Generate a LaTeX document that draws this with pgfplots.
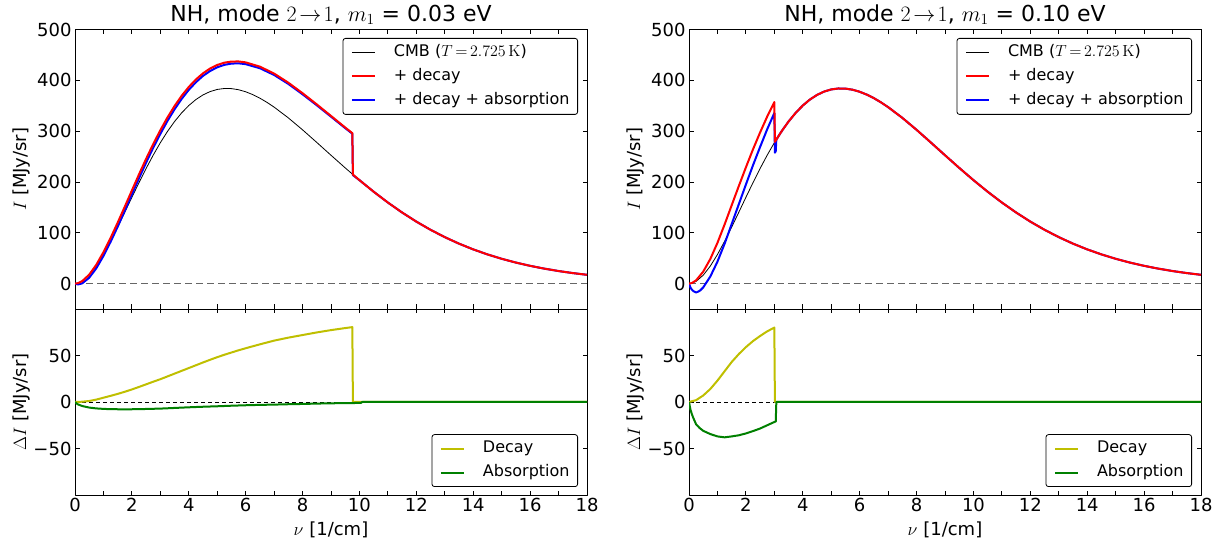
\documentclass[border=0pt]{standalone}
\usepackage{fix-cm}
\usepackage[no-math]{fontspec}
\setmainfont{DejaVu Sans}
\usepackage{pgfplots}
\pgfplotsset{compat=1.18}
\usepackage{pgfplotstable}
\definecolor{mplyellow}{rgb}{0.75,0.75,0}
\definecolor{mplgreen}{rgb}{0,0.5,0}

\pgfplotstableread{
nu I
0 0
0.1 0.73
0.25 4.40
0.5 16.46
0.75 34.53
1 57.18
1.25 83.10
1.5 111.13
1.75 140.29
2 169.72
2.25 198.67
2.5 226.52
2.75 252.81
3 277.17
3.25 299.28
3.5 318.90
3.75 335.97
4 350.38
4.25 362.13
4.5 371.25
4.75 377.83
5 382.04
5.25 383.92
5.5 383.67
5.75 381.49
6 377.47
6.25 371.86
6.5 364.85
6.75 356.58
7 347.25
7.5 326.08
8 302.56
8.5 277.75
9 252.55
9.5 227.64
10 203.58
10.5 180.76
11 159.47
11.5 139.86
12 121.94
12.5 105.82
13 91.39
13.5 78.58
14 67.29
14.5 57.41
15 48.80
15.5 41.35
16 34.92
16.5 29.42
17 24.70
17.5 20.69
18 17.29
}\cmb

\pgfplotsset{
  panel/.style={
    scale only axis, width=512bp, xmin=0, xmax=18,
    axis line style={line width=0.8bp},
    every tick/.style={black, line width=0.8bp},
    major tick length=4.5bp, minor tick length=4.5bp,
    tick align=inside,
    xtick={0,2,...,18}, minor xtick={1,3,...,17},
    ticklabel style={font=\fontsize{18bp}{21bp}\selectfont},
    label style={font=\fontsize{18bp}{21bp}\selectfont},
    ylabel style={at={(axis description cs:-0.105,0.5)}, anchor=center},
    xlabel style={at={(axis description cs:0.5,0)}, anchor=base, yshift=-40bp},
    title style={at={(axis description cs:0.5,1)}, anchor=base, inner sep=0pt, yshift=2bp, font=\fontsize{22bp}{25bp}\selectfont},
    legend cell align=left,
    legend image code/.code={\draw[##1] (0bp,0bp) -- (23bp,0bp);},
    line join=round,
  },
  toppanel/.style={panel, height=279.5bp, ymin=-50, ymax=500,
    ytick={0,100,200,300,400,500}, yticklabels={0,100,200,300,400,500},
    xticklabels={}, ylabel={$I$ [MJy/sr]},
    legend style={at={(1,1)}, anchor=north east, xshift=-9bp, yshift=-8.5bp,
      draw=black, line width=0.8bp, rounded corners=2.5bp, fill=white,
      inner xsep=8bp, inner ysep=6bp, row sep=8bp, column sep=18bp,
      font=\fontsize{16bp}{19bp}\selectfont,
      nodes={inner sep=0pt, text height=12bp, text depth=4bp}}},
  botpanel/.style={panel, height=186bp, ymin=-100, ymax=100,
    ytick={-50,0,50}, yticklabels={−50,0,50},
    xticklabels={0,2,4,6,8,10,12,14,16,18},
    ylabel={$\Delta I$ [MJy/sr]}, xlabel={$\nu$ [1/cm]},
    legend style={at={(1,0)}, anchor=south east, xshift=-9bp, yshift=8bp,
      draw=black, line width=0.8bp, rounded corners=2.5bp, fill=white,
      inner xsep=8bp, inner ysep=6bp, row sep=8bp, column sep=18bp,
      font=\fontsize{16bp}{19bp}\selectfont,
      nodes={inner sep=0pt, text height=12bp, text depth=4bp}}},
}

\begin{document}
\begin{tikzpicture}
\path[use as bounding box] (0,0) rectangle (1227bp,542bp);

% ---------- left top ----------
\begin{axis}[toppanel, at={(75bp,233bp)}, anchor=south west,
  title={NH, mode $2\mskip2mu{\to}\mskip2mu1$, $m_1$ = 0.03 eV}]
\addlegendimage{black, line width=0.8bp}\addlegendentry{CMB ($T\mskip3mu{=}\mskip3mu2.725\,\mathrm{K}$)}
\addlegendimage{red, line width=2bp}\addlegendentry{+ decay}
\addlegendimage{blue, line width=2bp}\addlegendentry{+ decay + absorption}
\addplot[forget plot, black!60, line width=1.3bp, dash pattern=on 6.5bp off 4.5bp] coordinates {(0,0) (18,0)};
\addplot[forget plot, black, line width=0.8bp] table[x=nu,y=I] {\cmb};
\addplot[forget plot, blue, line width=2bp] coordinates {(0,0) (0.1,-1.7) (0.25,0.4) (0.5,11.6) (0.75,30.2) (1,54.4) (1.25,82.0) (1.5,112.0) (1.75,143.4) (2,175.4) (2.25,207.2) (2.5,238.0) (2.75,267.3) (3,294.6) (3.25,320.0) (3.5,343.0) (3.75,363.4) (4,381.2) (4.25,396.2) (4.5,408.7) (4.75,418.3) (5,425.6) (5.25,430.4) (5.5,432.9) (5.75,433.4) (6,431.8) (6.5,423.8) (7,410.5) (7.5,392.9) (8,372.5) (8.5,350.9) (9,328.5) (9.5,305.9) (9.75,294.9) (9.77,213.4) (10,203.58)};
\addplot[forget plot, blue, line width=2bp, restrict x to domain=10:18] table[x=nu,y=I] {\cmb};
\addplot[forget plot, red, line width=2bp] coordinates {(0,0) (0.1,0.8) (0.25,4.7) (0.5,17.6) (0.75,37.1) (1,61.8) (1.25,89.7) (1.5,119.8) (1.75,151.3) (2,183.2) (2.25,214.9) (2.5,245.5) (2.75,274.6) (3,301.7) (3.25,326.8) (3.5,349.4) (3.75,369.5) (4,386.9) (4.25,401.6) (4.5,413.8) (4.75,423.2) (5,430.2) (5.25,434.7) (5.5,436.9) (5.75,437.1) (6,435.3) (6.5,426.9) (7,413.3) (7.5,395.3) (8,374.6) (8.5,352.6) (9,329.9) (9.5,307.1) (9.75,296.0) (9.77,214.5) (10,203.58)};
\addplot[forget plot, red, line width=2bp, restrict x to domain=10:18] table[x=nu,y=I] {\cmb};
\end{axis}

% ---------- left bottom ----------
\begin{axis}[botpanel, at={(75bp,47bp)}, anchor=south west]
\addplot[forget plot, black, line width=0.8bp, dash pattern=on 4bp off 3bp] coordinates {(0,0) (18,0)};
\addplot[mplyellow, line width=2bp] coordinates {(0,0) (0.25,0.3) (0.5,1.1) (0.75,2.6) (1,4.6) (1.25,6.6) (1.5,8.7) (1.75,11) (2,13.5) (2.25,16.2) (2.5,19) (2.75,21.8) (3,24.5) (3.25,27.5) (3.5,30.5) (3.75,33.5) (4,36.5) (4.25,39.5) (4.5,42.5) (4.75,45.4) (5,48.2) (5.25,50.8) (5.5,53.2) (5.75,55.6) (6,57.8) (6.5,62) (7,66) (7.5,69.2) (8,72) (8.5,74.8) (9,77.3) (9.5,79.5) (9.75,80.5) (9.77,0) (18,0)};
\addlegendentry{Decay}
\addplot[mplgreen, line width=2bp] coordinates {(0,0) (0.05,-1.5) (0.1,-2.5) (0.25,-4.3) (0.5,-6) (0.75,-6.9) (1,-7.4) (1.25,-7.7) (1.5,-7.8) (1.75,-7.9) (2,-7.8) (2.25,-7.7) (2.5,-7.5) (2.75,-7.3) (3,-7.1) (3.5,-6.4) (4,-5.7) (4.5,-5.1) (5,-4.6) (5.5,-4) (6,-3.5) (6.5,-3.1) (7,-2.8) (7.5,-2.4) (8,-2.1) (8.5,-1.7) (9,-1.4) (9.5,-1.2) (10.05,-1) (10.1,0) (18,0)};
\addlegendentry{Absorption}
\end{axis}

% ---------- right top ----------
\begin{axis}[toppanel, at={(689bp,233bp)}, anchor=south west,
  title={NH, mode $2\mskip2mu{\to}\mskip2mu1$, $m_1$ = 0.10 eV}]
\addlegendimage{black, line width=0.8bp}\addlegendentry{CMB ($T\mskip3mu{=}\mskip3mu2.725\,\mathrm{K}$)}
\addlegendimage{red, line width=2bp}\addlegendentry{+ decay}
\addlegendimage{blue, line width=2bp}\addlegendentry{+ decay + absorption}
\addplot[forget plot, black!60, line width=1.3bp, dash pattern=on 6.5bp off 4.5bp] coordinates {(0,0) (18,0)};
\addplot[forget plot, black, line width=0.8bp] table[x=nu,y=I] {\cmb};
\addplot[forget plot, blue, line width=2bp] coordinates {(0,0) (0.05,-7.7) (0.1,-12.0) (0.15,-14.7) (0.25,-17.6) (0.375,-14.4) (0.5,-7.5) (0.75,14.0) (1,43.2) (1.25,78.1) (1.5,117.1) (1.75,156.0) (2,194.9) (2.25,232.9) (2.5,269.0) (2.75,303.8) (3,335.7) (3.02,257.6) (3.05,260.6) (3.07,283.4) (3.25,299.28)};
\addplot[forget plot, blue, line width=2bp, restrict x to domain=3.25:18] table[x=nu,y=I] {\cmb};
\addplot[forget plot, red, line width=2bp] coordinates {(0,0) (0.1,1.0) (0.25,6.4) (0.5,23.5) (0.75,48.5) (1,80.2) (1.25,116.1) (1.5,154.1) (1.75,191.8) (2,228.7) (2.25,264.2) (2.5,297.5) (2.75,328.8) (3,357.2) (3.02,278.9) (3.25,299.28)};
\addplot[forget plot, red, line width=2bp, restrict x to domain=3.25:18] table[x=nu,y=I] {\cmb};
\end{axis}

% ---------- right bottom ----------
\begin{axis}[botpanel, at={(689bp,47bp)}, anchor=south west]
\addplot[forget plot, black, line width=0.8bp, dash pattern=on 4bp off 3bp] coordinates {(0,0) (18,0)};
\addplot[mplyellow, line width=2bp] coordinates {(0,0) (0.25,2) (0.5,7) (0.75,14) (1,23) (1.25,33) (1.5,43) (1.75,51.5) (2,59) (2.25,65.5) (2.5,71) (2.75,76) (3,80) (3.02,0) (18,0)};
\addlegendentry{Decay}
\addplot[mplgreen, line width=2bp] coordinates {(0,0) (0.05,-8) (0.1,-13) (0.15,-17) (0.25,-24) (0.375,-28) (0.5,-31) (0.75,-34.5) (1,-37) (1.25,-38) (1.5,-37) (1.75,-35.8) (2,-33.8) (2.25,-31.3) (2.5,-28.5) (2.75,-25) (3,-21.5) (3.05,-21) (3.07,0) (18,0)};
\addlegendentry{Absorption}
\end{axis}
\end{tikzpicture}
\end{document}
